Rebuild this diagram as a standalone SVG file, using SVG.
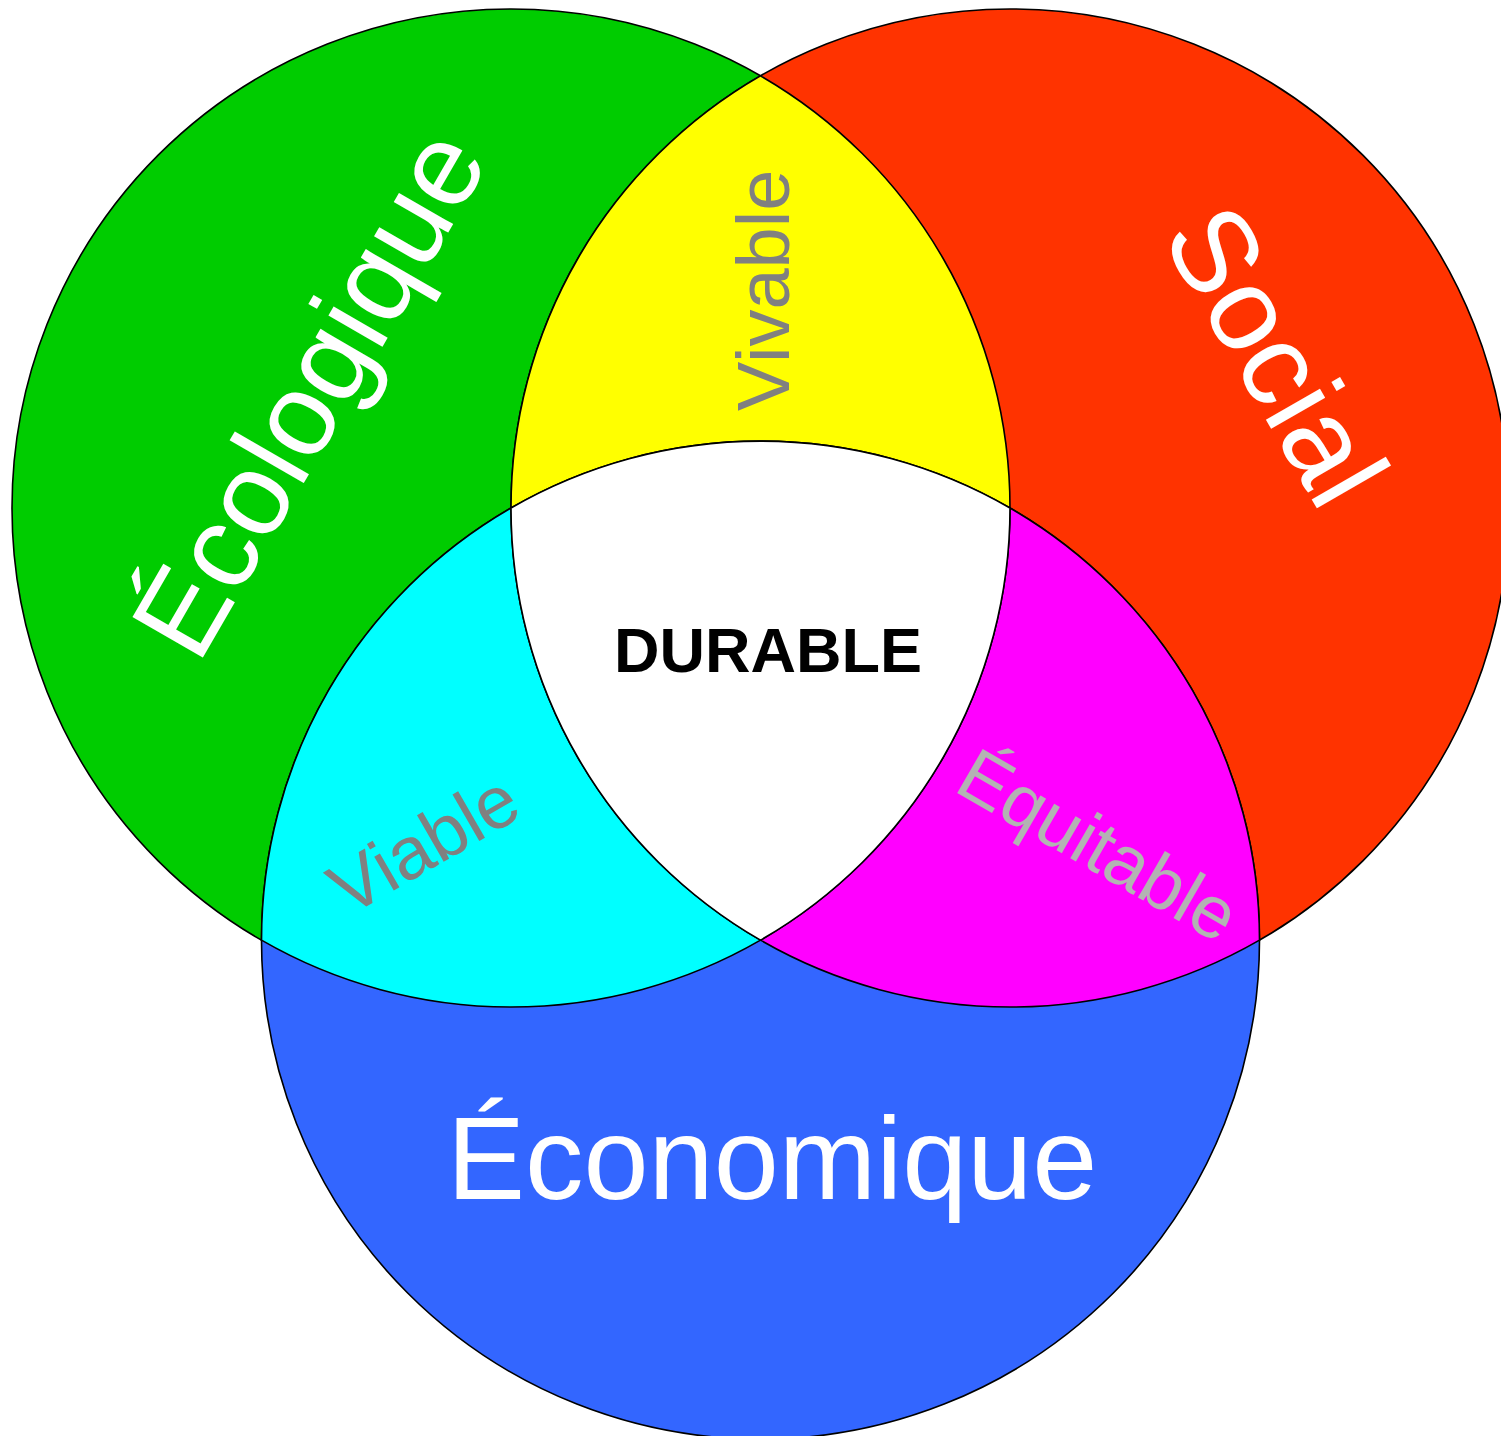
<svg xmlns="http://www.w3.org/2000/svg" width="1501" height="1436" viewBox="0 0 1501 1436">
<style>
.shape{stroke:#000;stroke-width:1.6;stroke-linejoin:round}
.big{font-family:"Liberation Sans",Arial,sans-serif;fill:#fff}
.small{font-family:"Liberation Sans",Arial,sans-serif;font-size:74px}
</style>
<rect width="1501" height="1436" fill="#fff"/>
<g id="ecologique">
<circle class="shape" cx="511" cy="508" r="499" fill="#00CC00"/>
</g>
<g id="social">
<circle class="shape" cx="1010" cy="508" r="499" fill="#FF3300"/>
</g>
<g id="economique">
<circle class="shape" cx="760.5" cy="940.15" r="499" fill="#3366FF"/>
</g>
<g id="vivable">
<path class="shape" fill="#FFFF00" d="M760.5,75.85 A499,499 0 0 0 511,508 A499,499 0 0 1 1010,508 A499,499 0 0 0 760.5,75.85 Z"/>
<text class="small" fill="#808080" transform="translate(789,411) rotate(-90)">Vivable</text>
</g>
<g id="viable">
<path class="shape" fill="#00FFFF" d="M511,508 A499,499 0 0 0 261.5,940.15 A499,499 0 0 0 760.5,940.15 A499,499 0 0 1 511,508 Z"/>
<text class="small" fill="#808080" transform="translate(348,917) rotate(-30)">Viable</text>
</g>
<g id="equitable">
<path class="shape" fill="#FF00FF" d="M1010,508 A499,499 0 0 1 760.5,940.15 A499,499 0 0 0 1259.5,940.15 A499,499 0 0 0 1010,508 Z"/>
<text class="small" fill="#B3B3B3" transform="translate(952,790) rotate(30)">Équitable</text>
</g>
<g id="durable">
<path class="shape" fill="#FFFFFF" d="M511,508 A499,499 0 0 1 1010,508 A499,499 0 0 1 760.5,940.15 A499,499 0 0 1 511,508 Z"/>
<text x="614" y="672" font-family="Liberation Sans, Arial, sans-serif" font-weight="bold" font-size="63" fill="#000">DURABLE</text>
</g>
<g id="labels">
<text class="big" font-size="118" transform="translate(198,666) rotate(-60)">Écologique</text>
<text class="big" font-size="118" text-anchor="middle" transform="translate(1277,355) rotate(60)" y="42">Social</text>
<text class="big" font-size="117" x="447" y="1199">Économique</text>
</g>
</svg>
